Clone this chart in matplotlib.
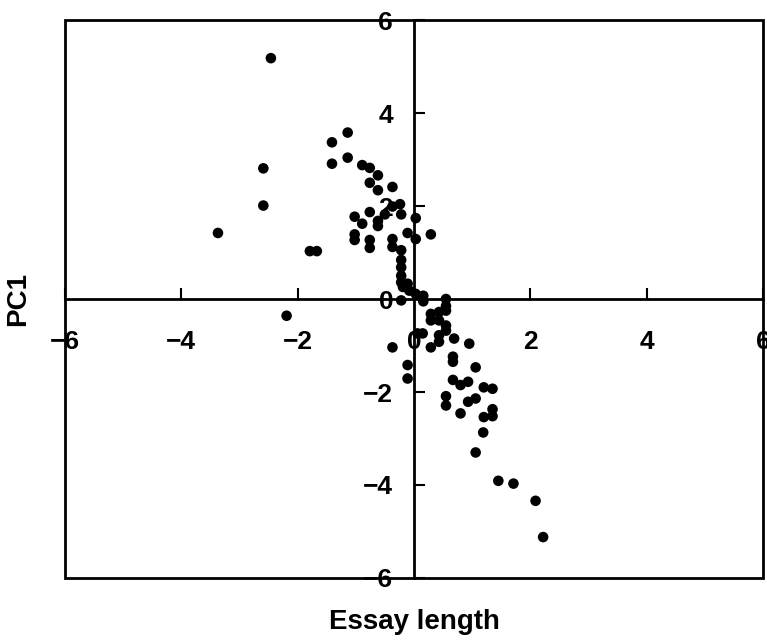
import matplotlib
matplotlib.use("Agg")
import matplotlib.pyplot as plt
from matplotlib.patches import Rectangle

plt.rcParams['font.family'] = ['Liberation Sans', 'DejaVu Sans']
plt.rcParams['font.weight'] = 'bold'

# essay length (x) vs PC1 (y)
essay_length = [-2.46, -2.59, -2.59, -3.37, -1.79, -1.67, -2.19, -1.41, -1.14, -1.41,
                -1.14, -0.89, -0.76, -0.62, -0.76, -0.62, -0.37, -0.24, -0.37, -1.02,
                -0.76, -0.50, -0.62, -0.62, -0.22, 0.03, -0.89, -1.02, -1.02, -0.76,
                -0.76, -0.11, 0.03, 0.29, -0.37, -0.37, -0.22, -0.22, -0.22, -0.22,
                -0.22, -0.11, -0.19, -0.08, -0.22, 0.03, 0.16, 0.16, 0.55, 0.55,
                0.55, 0.43, 0.29, 0.29, 0.43, 0.55, 0.55, 0.43, 0.15, 0.69,
                0.43, 0.29, 0.95, -0.37, 0.67, 0.67, 1.06, -0.11, -0.11, 0.67,
                0.80, 0.93, 1.20, 1.35, 0.55, 0.55, 1.06, 0.93, 0.80, 1.35,
                1.35, 1.20, 1.19, 1.06, 1.45, 1.71, 2.09, 2.22, 0.06]
pc1 = [5.18, 2.81, 2.01, 1.42, 1.03, 1.03, -0.36, 3.37, 3.58, 2.91,
       3.04, 2.88, 2.82, 2.66, 2.50, 2.34, 2.41, 2.04, 1.99, 1.77,
       1.87, 1.82, 1.68, 1.57, 1.82, 1.74, 1.62, 1.39, 1.27, 1.27,
       1.10, 1.42, 1.29, 1.39, 1.29, 1.12, 1.05, 0.84, 0.68, 0.50,
       0.36, 0.33, 0.26, 0.18, -0.03, 0.11, 0.07, -0.05, 0.00, -0.15,
       -0.25, -0.28, -0.32, -0.46, -0.46, -0.57, -0.68, -0.78, -0.74, -0.85,
       -0.92, -1.04, -0.96, -1.04, -1.24, -1.35, -1.47, -1.42, -1.71, -1.74,
       -1.85, -1.78, -1.90, -1.93, -2.09, -2.29, -2.14, -2.21, -2.46, -2.37,
       -2.52, -2.54, -2.87, -3.30, -3.91, -3.97, -4.34, -5.12, -0.74]

ticks = [-6, -4, -2, 0, 2, 4, 6]

fig = plt.figure(figsize=(7.67, 6.42), dpi=100)
ax = fig.add_axes([0.0847, 0.0997, 0.9101, 0.8691])

ax.scatter(essay_length, pc1, s=58, c="black", edgecolors="none", zorder=3)

ax.set_xlim(-6, 6)
ax.set_ylim(-6, 6)
ax.set_xticks(ticks)
ax.set_yticks(ticks)

# axes through the origin
ax.spines['left'].set_position('zero')
ax.spines['bottom'].set_position('zero')
ax.spines['top'].set_visible(False)
ax.spines['right'].set_visible(False)
ax.spines['left'].set_linewidth(2)
ax.spines['bottom'].set_linewidth(2)

# outer frame
ax.add_patch(Rectangle((0, 0), 1, 1, transform=ax.transAxes, fill=False,
                       lw=2, edgecolor="black", clip_on=False, zorder=4))

ax.tick_params(axis='x', direction='in', length=8, width=1.5, pad=22, labelsize=19)
ax.tick_params(axis='y', direction='in', length=8, width=1.5, pad=15, labelsize=19)
for lab in ax.get_xticklabels() + ax.get_yticklabels():
    lab.set_fontweight('bold')

ax.set_xlabel("Essay length", fontsize=20, fontweight='bold')
ax.set_ylabel("PC1", fontsize=20, fontweight='bold')
ax.xaxis.set_label_coords(0.5, -0.055)
ax.yaxis.set_label_coords(-0.048, 0.5)

fig.savefig("out.png", dpi=100)
